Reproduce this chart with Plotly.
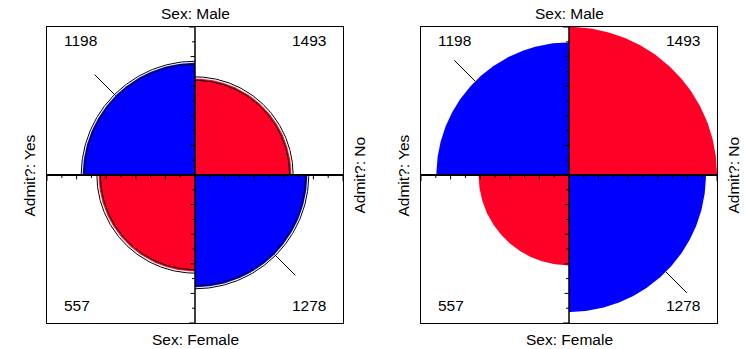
import numpy as np
import plotly.graph_objects as go

# UC Berkeley graduate admissions, pooled over departments
row_labels = ["Male", "Female"]          # Sex
col_labels = ["Yes", "No"]               # Admit?
counts = [[1198, 1493],                  # Male:   admitted, rejected
          [557, 1278]]                   # Female: admitted, rejected

BLUE = "#0000FF"
RED = "#FF0026"
FONT = "Liberation Sans, Arial, sans-serif"

W, H = 746, 349
BOX = 296                                 # side of each square panel, px
panel_left = [47, 421]                    # left edge of each panel, px
panel_top = 27


def ipf_margins(tab, n_iter=200):
    """Scale a 2x2 table so every row and column sums to 1 (odds ratio kept)."""
    t = np.array(tab, dtype=float)
    for _ in range(n_iter):
        t = t / t.sum(axis=1, keepdims=True)
        t = t / t.sum(axis=0, keepdims=True)
    return t


tab = np.array(counts, dtype=float)
odds_ratio = tab[0, 0] * tab[1, 1] / (tab[0, 1] * tab[1, 0])
se_log = np.sqrt((1.0 / tab).sum())
or_bounds = np.exp(np.log(odds_ratio) + np.array([-1, 1]) * 1.959964 * se_log)

std_tab = ipf_margins(tab)
max_tab = tab / tab.max()

# quadrant angles (degrees) for cells [row][col]
quad_angles = {(0, 0): (90, 180), (0, 1): (0, 90), (1, 0): (180, 270), (1, 1): (270, 360)}
label_pos = {(0, 0): (-0.899, 0.912, "left"), (0, 1): (0.899, 0.912, "right"),
             (1, 0): (-0.899, -0.885, "left"), (1, 1): (0.899, -0.885, "right")}

fig = go.Figure()


def arc(r, a0, a1, n=120):
    t = np.radians(np.linspace(a0, a1, n))
    return r * np.cos(t), r * np.sin(t)


def add_panel(idx, scaled, rings):
    xa = "x" if idx == 0 else "x2"
    ya = "y" if idx == 0 else "y2"
    # quarter-circle sectors
    for (i, j), (a0, a1) in quad_angles.items():
        r = np.sqrt(scaled[i, j])
        ax_, ay_ = arc(r, a0, a1)
        xs = np.concatenate([[0], ax_, [0]])
        ys = np.concatenate([[0], ay_, [0]])
        col = BLUE if i == j else RED
        fig.add_trace(go.Scatter(x=xs, y=ys, mode="lines", fill="toself",
                                 fillcolor=col, line=dict(width=0, color=col),
                                 hoverinfo="skip", showlegend=False,
                                 xaxis=xa, yaxis=ya))
    # confidence rings for the odds ratio
    for orb in rings:
        ring_tab = ipf_margins([[orb, 1.0], [1.0, 1.0]])
        for (i, j), (a0, a1) in quad_angles.items():
            rx, ry = arc(np.sqrt(ring_tab[i, j]), a0, a1)
            fig.add_trace(go.Scatter(x=rx, y=ry, mode="lines",
                                     line=dict(width=1, color="black"),
                                     hoverinfo="skip", showlegend=False,
                                     xaxis=xa, yaxis=ya))
    # pointer strokes on the diagonal cells
    for (i, j) in [(0, 0), (1, 1)]:
        a0, a1 = quad_angles[(i, j)]
        mid = np.radians((a0 + a1) / 2)
        r = np.sqrt(scaled[i, j])
        rr = np.array([r, r + 0.2])
        fig.add_trace(go.Scatter(x=rr * np.cos(mid), y=rr * np.sin(mid), mode="lines",
                                 line=dict(width=1, color="black"),
                                 hoverinfo="skip", showlegend=False,
                                 xaxis=xa, yaxis=ya))
    # cross axes
    fig.add_shape(type="line", x0=-1, x1=1, y0=0, y1=0, xref=xa, yref=ya,
                  line=dict(color="black", width=2))
    fig.add_shape(type="line", x0=0, x1=0, y0=-1, y1=1, xref=xa, yref=ya,
                  line=dict(color="black", width=1.5))
    # tick marks every 0.1
    for k in range(-10, 11):
        v = k / 10
        L = 0.04 if abs(k) == 10 else (0.03 if k % 2 == 0 else 0.02)
        fig.add_shape(type="line", x0=v, x1=v, y0=0, y1=-L, xref=xa, yref=ya,
                      line=dict(color="black", width=1))
        fig.add_shape(type="line", x0=-L, x1=0, y0=v, y1=v, xref=xa, yref=ya,
                      line=dict(color="black", width=1))
    # cell counts
    for (i, j), (lx, ly, al) in label_pos.items():
        fig.add_annotation(x=lx, y=ly, xref=xa, yref=ya, text=str(counts[i][j]),
                           showarrow=False, xanchor=al, yanchor="middle",
                           font=dict(size=15.5, color="black", family=FONT))
    # margin labels
    cx = panel_left[idx] + BOX / 2
    side = [(cx, 13.3, f"Sex: {row_labels[0]}", 0),
            (cx, 339.5, f"Sex: {row_labels[1]}", 0),
            (panel_left[idx] - 18, 175.5, f"Admit?: {col_labels[0]}", -90),
            (panel_left[idx] + BOX + 16, 175.5, f"Admit?: {col_labels[1]}", -90)]
    for px, py, txt, ang in side:
        fig.add_annotation(x=px / W, y=1 - py / H, xref="paper", yref="paper",
                           text=txt, showarrow=False, textangle=ang,
                           xanchor="center", yanchor="middle",
                           font=dict(size=15.5, color="black", family=FONT))


add_panel(0, std_tab, or_bounds)
add_panel(1, max_tab, [])

ydom = [(H - panel_top - BOX) / H, (H - panel_top) / H]
axis_common = dict(range=[-1, 1], showgrid=False, zeroline=False, showticklabels=False,
                   ticks="", showline=True, mirror=True, linecolor="black", linewidth=1,
                   fixedrange=True)
fig.update_layout(
    width=W, height=H, margin=dict(l=0, r=0, t=0, b=0),
    paper_bgcolor="white", plot_bgcolor="white", showlegend=False,
    xaxis=dict(domain=[panel_left[0] / W, (panel_left[0] + BOX) / W], anchor="y", **axis_common),
    yaxis=dict(domain=ydom, anchor="x", **axis_common),
    xaxis2=dict(domain=[panel_left[1] / W, (panel_left[1] + BOX) / W], anchor="y2", **axis_common),
    yaxis2=dict(domain=ydom, anchor="x2", **axis_common),
)

fig.write_html("out.html")
